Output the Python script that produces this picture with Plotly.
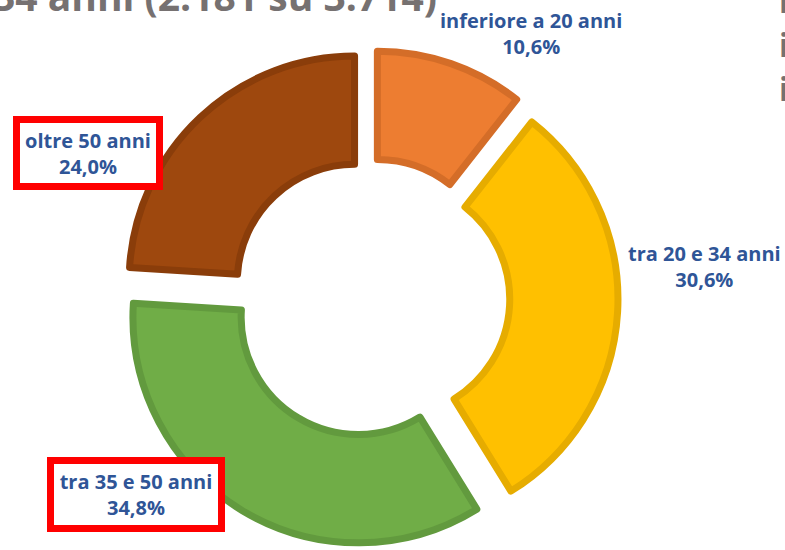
import plotly.graph_objects as go

# ---- data ----
categories = ["inferiore a 20 anni", "tra 20 e 34 anni", "tra 35 e 50 anni", "oltre 50 anni"]
percentages = [10.6, 30.6, 34.8, 24.0]
fill_colors = ["#ED7D31", "#FFC000", "#70AD47", "#9E480E"]
line_colors = ["#D46D28", "#E6AC00", "#629A3E", "#8A3D0A"]
title_text = "34 anni (2.181 su 3.714)"
side_lines = ["r", "i", "i"]
highlighted = ["tra 35 e 50 anni", "oltre 50 anni"]

W, H = 785, 550


def px(x):
    return x / W


def py(y):
    return 1 - y / H


fig = go.Figure()
fig.add_trace(go.Pie(
    labels=categories,
    values=percentages,
    hole=0.52,
    pull=[0.1] * len(categories),
    sort=False,
    direction="clockwise",
    rotation=0,
    textinfo="none",
    marker=dict(colors=fill_colors, line=dict(color=line_colors, width=7)),
    domain=dict(x=[px(122), px(618)], y=[py(546), py(50)]),
    showlegend=False,
))

label_pos = {
    "inferiore a 20 anni": (531, 33),
    "tra 20 e 34 anni": (704, 266),
    "tra 35 e 50 anni": (136, 494),
    "oltre 50 anni": (88, 153),
}
box_size = {
    "tra 35 e 50 anni": (162, 59),
    "oltre 50 anni": (134, 58),
}

for cat, val in zip(categories, percentages):
    txt = f"<b>{cat}<br>{val:.1f}%</b>".replace(".", ",")
    x, y = label_pos[cat]
    kw = {}
    if cat in highlighted:
        bw, bh = box_size[cat]
        kw = dict(bordercolor="#FF0000", borderwidth=7, borderpad=1,
                  bgcolor="white", width=bw, height=bh)
    fig.add_annotation(
        text=txt, x=px(x), y=py(y), xref="paper", yref="paper",
        xanchor="center", yanchor="middle", showarrow=False, align="center",
        font=dict(family="Open Sans", size=20, color="#2F5597"),
        **kw,
    )

fig.add_annotation(
    text=f"<b>{title_text}</b>", x=px(439), y=py(24), xref="paper", yref="paper",
    xanchor="right", yanchor="bottom", showarrow=False,
    font=dict(family="Open Sans", size=39, color="#767171"),
)
# cut-off side text (one glyph per line)
for i, ch in enumerate(side_lines):
    fig.add_annotation(
        text=f"<b>{ch}</b>", x=px(778), y=py(23 + 44 * i), xref="paper", yref="paper",
        xanchor="left", yanchor="bottom", showarrow=False, borderpad=0,
        font=dict(family="Open Sans", size=32, color="#767171"),
    )

fig.update_layout(
    width=W, height=H,
    margin=dict(l=0, r=0, t=0, b=0),
    paper_bgcolor="white",
    plot_bgcolor="white",
)

fig.write_html(
    "out.html",
    config={"displayModeBar": False},
    post_script="document.body.style.margin='0';document.body.style.padding='0';",
)
